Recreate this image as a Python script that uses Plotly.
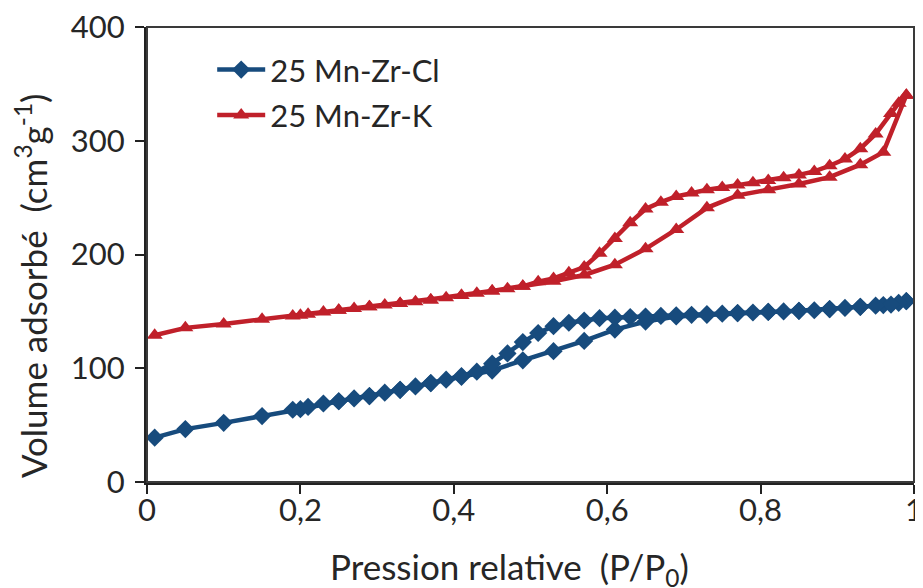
import plotly.graph_objects as go

# Relative pressure values (adsorption branch, then desorption branch)
ads_x = [0.01, 0.05, 0.10, 0.15, 0.20, 0.25, 0.29, 0.33, 0.37, 0.41, 0.45, 0.49,
         0.53, 0.57, 0.61, 0.65, 0.69, 0.73, 0.77, 0.81, 0.85, 0.89, 0.93, 0.96, 0.99]
des_x = [0.99, 0.98, 0.97, 0.95, 0.93, 0.91, 0.89, 0.87, 0.85, 0.83, 0.81, 0.79,
         0.77, 0.75, 0.73, 0.71, 0.69, 0.67, 0.65, 0.63, 0.61, 0.59, 0.57, 0.55,
         0.53, 0.51, 0.49, 0.47, 0.45, 0.43, 0.41, 0.39, 0.37, 0.35, 0.33, 0.31,
         0.29, 0.27, 0.25, 0.23, 0.21, 0.19]

# 25 Mn-Zr-Cl
cl_ads = [39, 46.5, 52, 58, 64, 71, 75.5, 81, 87, 92.5, 98, 107,
          115, 124, 134, 141, 145.5, 147, 148.5, 149.5, 150.5, 152, 154, 155.5, 159]
cl_des = [159, 157.5, 156, 155, 154, 153, 152, 151, 150.5, 150, 149.5, 149,
          148.5, 148, 147.5, 147, 146.5, 146, 145.5, 145, 144.5, 144, 142, 140,
          137, 131, 123, 113, 104, 97, 93, 90, 87, 84, 81, 78.5,
          75.5, 73.5, 71, 69, 66, 63.5]

# 25 Mn-Zr-K
k_ads = [129, 135.5, 139, 143, 146.5, 151, 154, 157, 160, 164, 168, 172,
         176.5, 182, 191, 205, 222, 241, 252, 257, 262, 268, 279, 290, 340]
k_des = [340, 333, 324, 306, 293, 284, 278, 273, 270, 267.5, 265, 263,
         261, 259, 257, 254, 251, 246, 240, 228, 214, 201, 189, 184,
         179, 176, 172, 170, 168, 166, 164, 162, 160, 158.5, 157, 155.5,
         154, 152.5, 151, 149.5, 147.5, 146]

series_names = ["25 Mn-Zr-Cl", "25 Mn-Zr-K"]
x_ticks = [0, 0.2, 0.4, 0.6, 0.8, 1]
y_ticks = [0, 100, 200, 300, 400]
x_title = "Pression relative  (P/P<sub>0</sub>)"
y_title = "Volume adsorbé  (cm<sup>3</sup>g<sup>-1</sup>)"

BLUE = "#174B7D"
RED = "#C0202A"
FONT = "Lato"
TXT = "#262626"

fig = go.Figure()
fig.add_trace(go.Scatter(
    x=ads_x + des_x, y=cl_ads + cl_des, mode="lines+markers", name=series_names[0],
    legendgroup="a",
    line=dict(color=BLUE, width=4.5),
    marker=dict(symbol="diamond", size=14, color=BLUE),
))
fig.add_trace(go.Scatter(
    x=ads_x + des_x, y=k_ads + k_des, mode="lines+markers", name=series_names[1],
    legendgroup="b",
    line=dict(color=RED, width=4.5),
    marker=dict(symbol="triangle-up", size=14, color=RED),
))

fig.update_layout(
    width=915, height=580,
    margin=dict(l=139, r=9, t=19, b=106, autoexpand=False),
    paper_bgcolor="white", plot_bgcolor="white",
    separators=", ",
    font=dict(family=FONT, size=31, color=TXT),
    showlegend=True,
    legend=dict(x=0.085, y=0.965, xanchor="left", yanchor="top",
                bgcolor="rgba(0,0,0,0)", font=dict(size=31, color=TXT),
                tracegroupgap=2, itemwidth=48),
    shapes=[dict(type="rect", xref="paper", yref="paper", x0=0, y0=0, x1=1, y1=1,
                 line=dict(color="#3a3a3a", width=2), layer="above")],
    annotations=[
        dict(text=x_title, xref="paper", yref="paper", x=0.472, y=-0.19,
             xanchor="center", yanchor="middle", showarrow=False,
             font=dict(size=35, color=TXT)),
        dict(text=y_title, xref="paper", yref="paper", x=-0.151, y=0.431,
             xanchor="center", yanchor="middle", showarrow=False, textangle=-90,
             font=dict(size=35, color=TXT)),
    ],
)
fig.update_xaxes(
    range=[0, 1], tickvals=x_ticks, ticks="outside", ticklen=9, tickwidth=2,
    tickcolor="#222", showline=True, linecolor="#222", linewidth=3,
    showgrid=False, zeroline=False, tickfont=dict(size=31, color=TXT),
    ticklabelstandoff=-10, ticklabeloverflow="allow", automargin=False,
)
fig.update_yaxes(
    range=[0, 400], tickvals=y_ticks, ticks="outside", ticklen=9, tickwidth=2,
    tickcolor="#222", showline=True, linecolor="#222", linewidth=3,
    showgrid=False, zeroline=False, tickfont=dict(size=31, color=TXT),
    ticklabelstandoff=4, ticklabeloverflow="allow", automargin=False,
)

fig.write_html("out.html")
